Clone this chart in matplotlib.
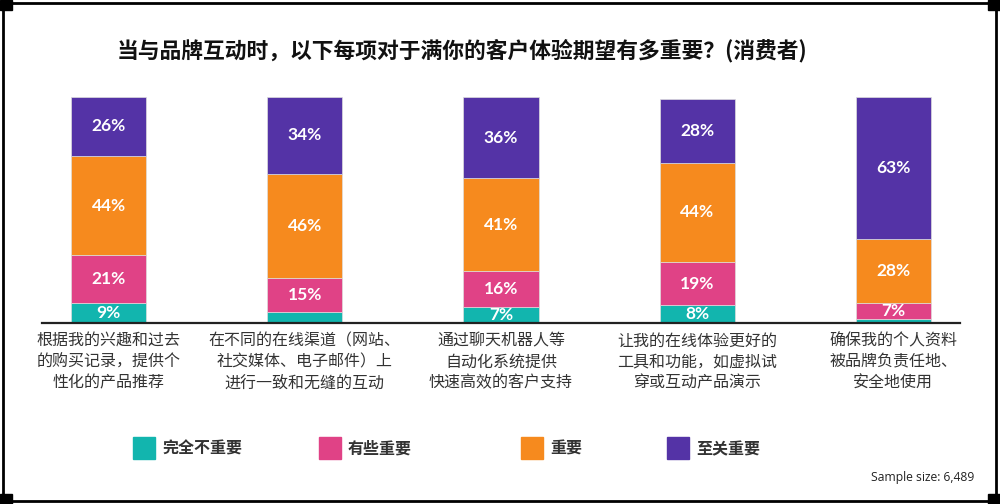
import matplotlib.pyplot as plt
from matplotlib.patches import Rectangle

plt.rcParams['font.family'] = ['Noto Sans CJK SC', 'DejaVu Sans']

categories = ['根据我的兴趣和过去\n的购买记录，提供个\n性化的产品推荐',
              '在不同的在线渠道（网站、\n社交媒体、电子邮件）上\n进行一致和无缝的互动',
              '通过聊天机器人等\n自动化系统提供\n快速高效的客户支持',
              '让我的在线体验更好的\n工具和功能，如虚拟试\n穿或互动产品演示',
              '确保我的个人资料\n被品牌负责任地、\n安全地使用']
series_names = ['完全不重要', '有些重要', '重要', '至关重要']
not_important = [9, 5, 7, 8, 2]
somewhat = [21, 15, 16, 19, 7]
important = [44, 46, 41, 44, 28]
critical = [26, 34, 36, 28, 63]
colors = ['#12B5AE', '#E04286', '#F68A1E', '#5433A6']

series = [not_important, somewhat, important, critical]

fig = plt.figure(figsize=(10, 5.04), dpi=100)
ax = fig.add_axes([0.042, 0.359, 0.918, 0.4484])

x = list(range(len(categories)))
bottom = [0] * len(categories)
for vals, col in zip(series, colors):
    ax.bar(x, vals, bottom=bottom, width=0.383, color=col,
           edgecolor='#dddddd', linewidth=0.5)
    for i, v in enumerate(vals):
        if v >= 7:
            ax.text(i, bottom[i] + v / 2, f'{v}%', ha='center', va='center',
                    color='white', fontsize=12.5, fontweight='bold',
                    family=['Lato', 'DejaVu Sans'])
    bottom = [b + v for b, v in zip(bottom, vals)]

ax.set_xlim(-0.34, 4.34)
ax.set_ylim(0, 100)
for s in ['top', 'right', 'left']:
    ax.spines[s].set_visible(False)
ax.spines['bottom'].set_linewidth(1.6)
ax.spines['bottom'].set_color('#222222')
ax.set_yticks([])
ax.set_xticks(x)
ax.set_xticklabels(categories, fontsize=11.5, color='#333333', linespacing=1.3)
ax.tick_params(axis='x', length=0, pad=7)

fig.text(0.117, 0.90, '当与品牌互动时，以下每项对于满你的客户体验期望有多重要？(消费者)',
         ha='left', va='center', fontsize=15.7, fontweight='bold', color='#111111')

# legend
leg_x = [0.133, 0.319, 0.521, 0.667]
for lx, name, col in zip(leg_x, series_names, colors):
    fig.add_artist(Rectangle((lx, 1 - 459 / 504), 0.022, 22 / 504,
                             transform=fig.transFigure, color=col))
    fig.text(lx + 0.029, 1 - 449 / 504, name, ha='left', va='center',
             fontsize=11.5, fontweight='bold', color='#333333')

fig.text(0.974, 1 - 477 / 504, 'Sample size: 6,489', ha='right', va='center',
         fontsize=8.7, color='#222222', family=['Open Sans', 'DejaVu Sans'])

# frame
fig.add_artist(Rectangle((0.003, 1 - 501 / 504), 0.993, 498 / 504,
                         transform=fig.transFigure, fill=False,
                         edgecolor='black', linewidth=2))
for cx, cy in [(0.0, 0.0), (0.988, 0.0), (0.0, 0.98), (0.988, 0.98)]:
    fig.add_artist(Rectangle((cx, cy), 0.012, 0.02,
                             transform=fig.transFigure, color='black'))

fig.savefig('out.png', dpi=100)
